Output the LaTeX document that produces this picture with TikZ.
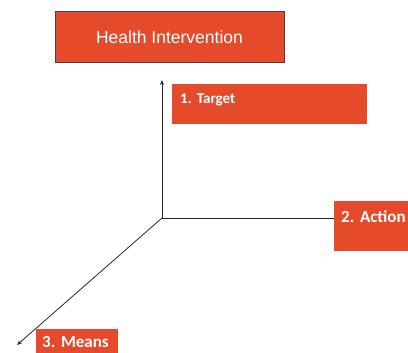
\documentclass[tikz,border=0pt]{standalone}
\usepackage{fontspec}
\setmainfont{Carlito}
\newfontfamily\titlefont{Liberation Sans}
\usepackage{xcolor}
\usetikzlibrary{arrows.meta}
\definecolor{boxred}{RGB}{229,75,42}
\definecolor{boxedge}{RGB}{72,62,62}
\definecolor{axisgray}{RGB}{40,40,40}
\frenchspacing

\begin{document}
\begin{tikzpicture}[
    x=1pt, y=-1pt,
    titlebox/.style={rectangle, draw=boxedge, line width=1pt, fill=boxred, text=white, minimum width=229pt, minimum height=51pt, font=\titlefont\fontsize{17.5}{20}\selectfont},
    labelbox/.style={rectangle, fill=boxred, text=white, anchor=north west, align=left, inner xsep=7pt, inner ysep=4pt, font=\bfseries},
    axis/.style={line width=0.8pt, axisgray},
    arrow/.style={axis, -{Stealth[length=5pt, width=4pt]}}
]
    \useasboundingbox (0,0) rectangle (408,353);

    % Title
    \node[titlebox] (intervention) at (169.5,37.5) {Health Intervention};

    % Dimensions
    \node[labelbox, inner xsep=8pt, text width=179pt, text height=15pt, text depth=17pt, font=\bfseries\fontsize{15}{18}\selectfont] (target) at (172,84) {1. Target};
    \node[labelbox, text width=80pt, text height=17pt, text depth=25pt, font=\bfseries\fontsize{17}{20}\selectfont] (action) at (334,201) {2. Action};
    \node[labelbox, inner xsep=6pt, text width=70pt, text height=14pt, text depth=10pt, font=\bfseries\fontsize{17}{20}\selectfont] (means) at (36,329) {3. Means};

    % Axes
    \coordinate (origin) at (162,218);
    \coordinate (uptip) at (162,80);
    \coordinate (downtip) at (17,345);
    \draw[arrow] (origin) -- (uptip);
    \draw[axis] (origin) -- (origin -| action.west);
    \draw[arrow] (origin) -- (downtip);

\end{tikzpicture}
\end{document}
